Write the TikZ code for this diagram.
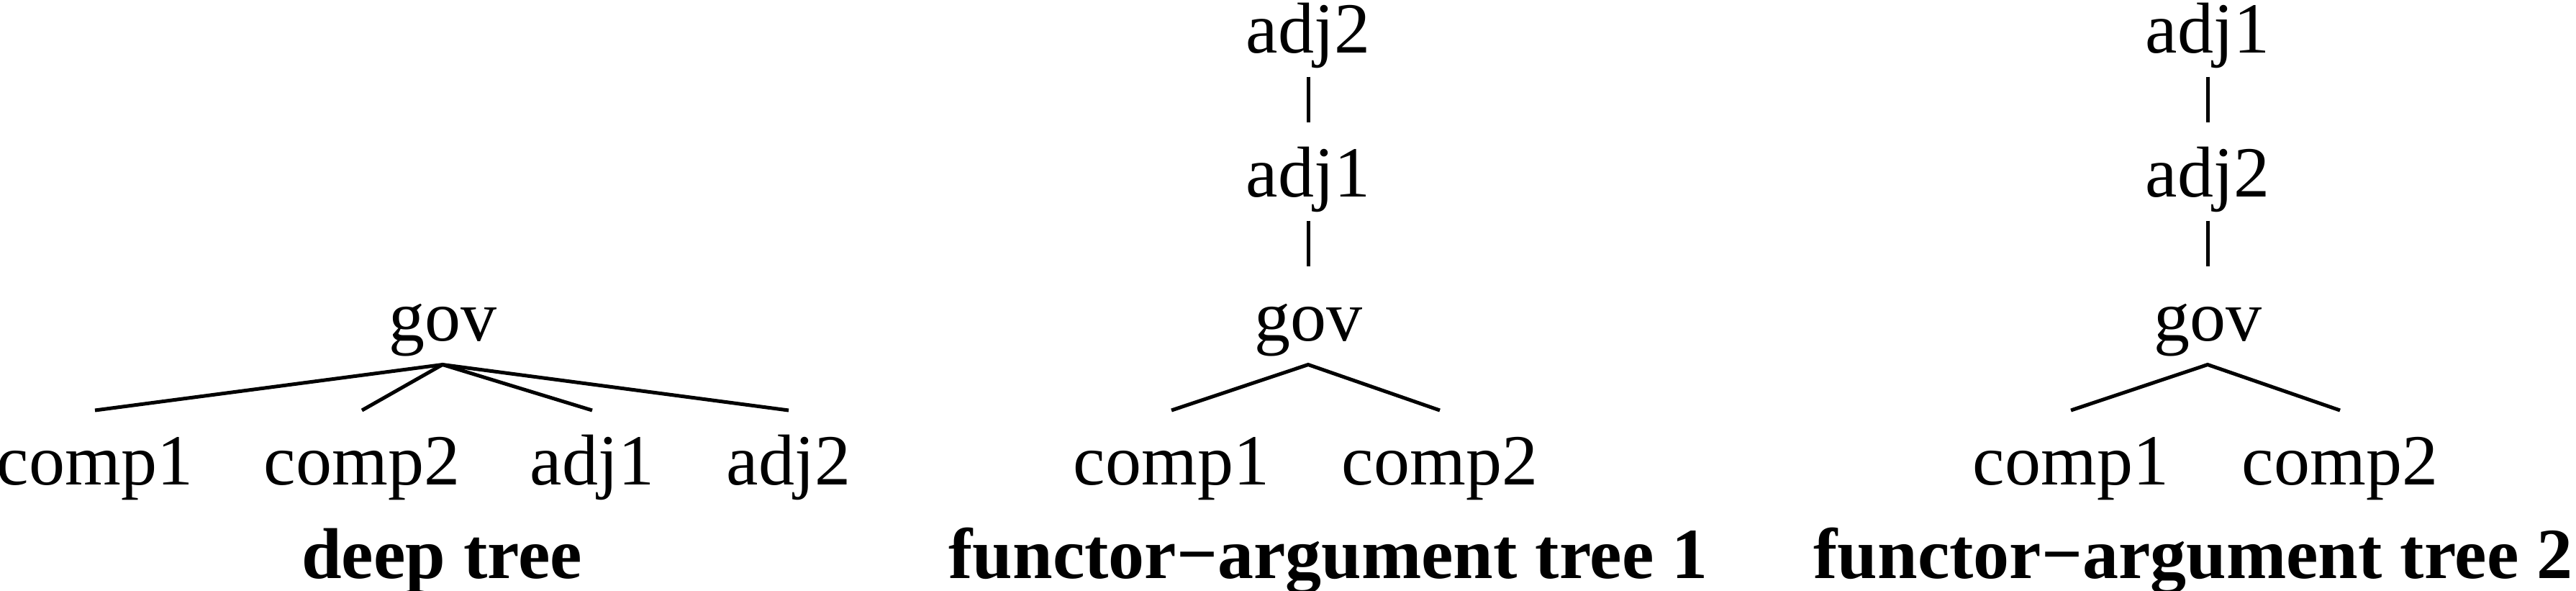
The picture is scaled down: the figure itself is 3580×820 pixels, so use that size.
\documentclass[tikz,border=0pt]{standalone}
\usepackage{fontspec}
\setmainfont{Liberation Serif}
\begin{document}
\begin{tikzpicture}[x=0.1pt,y=-0.1pt,
  word/.style={anchor=base,inner xsep=0pt,inner ysep=0pt,text height=10.1pt,text depth=3.15pt,font=\fontsize{10pt}{12pt}\selectfont},
  caption/.style={anchor=base,inner sep=0pt,font=\fontsize{10pt}{12pt}\selectfont\bfseries},
  edge/.style={line width=0.5pt,line cap=butt}]
\useasboundingbox (0,0) rectangle (3580,820);
% deep tree
\node[word] (dgov) at (615,473) {gov};
\node[word] (dc1) at (132,673) {comp1};
\node[word] (dc2) at (503,673) {comp2};
\node[word] (da1) at (823,673) {adj1};
\node[word] (da2) at (1096,673) {adj2};
\node[caption] (dcap) at (614,803) {deep tree};
\draw[edge] (dc1.north) -- (dgov.south) -- (da2.north);
\draw[edge] (dc2.north) -- (dgov.south) -- (da1.north);
% functor-argument tree 1
\node[word] (fa2) at (1818,73) {adj2};
\node[word] (fa1) at (1818,273) {adj1};
\node[word] (fgov) at (1818,473) {gov};
\node[word] (fc1) at (1628,673) {comp1};
\node[word] (fc2) at (2001,673) {comp2};
\node[caption] (fcap) at (1846,803) {functor−argument tree 1};
\draw[edge] (fa2.south) -- (fa1.north);
\draw[edge] (fa1.south) -- (fgov.north);
\draw[edge] (fc1.north) -- (fgov.south) -- (fc2.north);
% functor-argument tree 2
\node[word] (ga1) at (3068,73) {adj1};
\node[word] (ga2) at (3068,273) {adj2};
\node[word] (ggov) at (3068,473) {gov};
\node[word] (gc1) at (2878,673) {comp1};
\node[word] (gc2) at (3252,673) {comp2};
\node[caption] (gcap) at (3048,803) {functor−argument tree 2};
\draw[edge] (ga1.south) -- (ga2.north);
\draw[edge] (ga2.south) -- (ggov.north);
\draw[edge] (gc1.north) -- (ggov.south) -- (gc2.north);
\end{tikzpicture}
\end{document}
